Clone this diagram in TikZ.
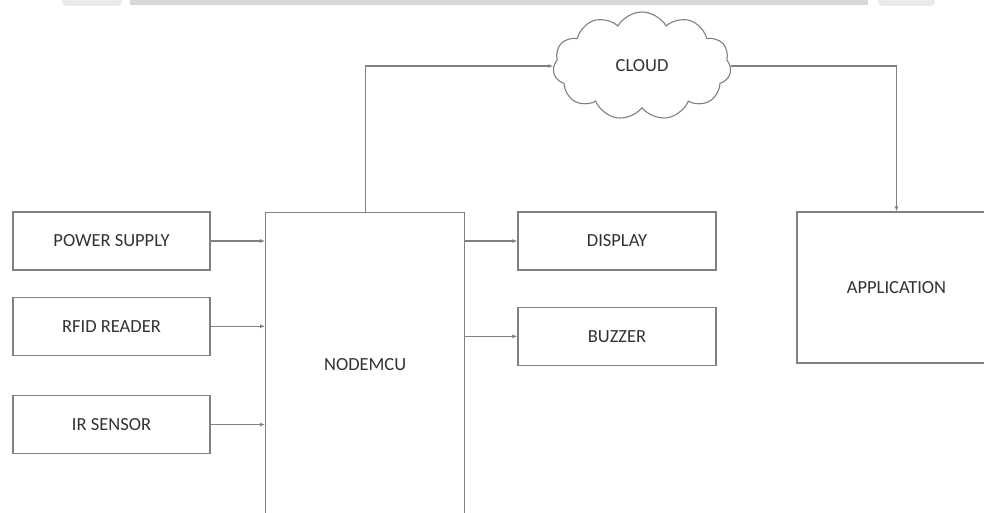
\documentclass[tikz,border=0pt]{standalone}
\usepackage{fontspec}
\setmainfont{Carlito}
\usepackage{tikz}
\usetikzlibrary{shapes.symbols, arrows.meta, positioning}
\definecolor{myline}{RGB}{128,128,128}
\definecolor{mytext}{RGB}{50,50,50}
\definecolor{mybar}{RGB}{216,216,216}
\definecolor{myblob}{RGB}{234,234,234}
\tikzset{
  block/.style={rectangle, draw=myline, fill=white, minimum width=197pt,
    minimum height=58pt, font=\fontsize{18.5}{20}\selectfont, text=mytext,
    line width=1.3pt, inner sep=0pt},
  cloudnode/.style={cloud, draw=myline, fill=white, cloud puffs=11,
    cloud puff arc=120, minimum width=178pt, minimum height=108pt,
    font=\fontsize{18.5}{20}\selectfont, text=mytext, line width=1.1pt},
  arrow/.style={-{Latex[length=5pt,width=4pt]}, line width=1.2pt, color=myline}
}
\begin{document}
\begin{tikzpicture}[x=1pt, y=1pt]
  \clip (0,0) rectangle (984,512);
  \fill[white] (0,0) rectangle (984,512);

  % bar left over at the top
  \fill[mybar] (130,507) rectangle (868,513);
  \fill[myblob, rounded corners=4pt] (62,506) rectangle (122,514);
  \fill[myblob, rounded corners=4pt] (878,506) rectangle (935,514);

  % Controller
  \node[block, anchor=north west, minimum width=199pt, minimum height=304pt] (nodemcu) at (265,300) {NODEMCU};

  % Inputs
  \node[block] (power) at (111.5,271) {POWER SUPPLY};
  \node[block, below=26pt of power] (rfid) {RFID READER};
  \node[block, below=39pt of rfid] (ir) {IR SENSOR};

  % Outputs
  \node[block, minimum width=198pt] (display) at (617,271) {DISPLAY};
  \node[block, minimum width=198pt, below=36pt of display] (buzzer) {BUZZER};

  % Cloud and app
  \node[cloudnode] (cloud) at (642,446) {CLOUD};
  \node[block, minimum width=199pt, minimum height=151pt] (app) at (896.5,224.5) {APPLICATION};

  \draw[arrow] (power) -- (power -| nodemcu.west);
  \draw[arrow] (rfid) -- (rfid -| nodemcu.west);
  \draw[arrow] (ir) -- (ir -| nodemcu.west);
  \draw[arrow] (display -| nodemcu.east) -- (display);
  \draw[arrow] (buzzer -| nodemcu.east) -- (buzzer);
  \draw[arrow] (nodemcu.north) |- (cloud.west);
  \draw[arrow] (cloud.east) -| (app.north);
\end{tikzpicture}
\end{document}
